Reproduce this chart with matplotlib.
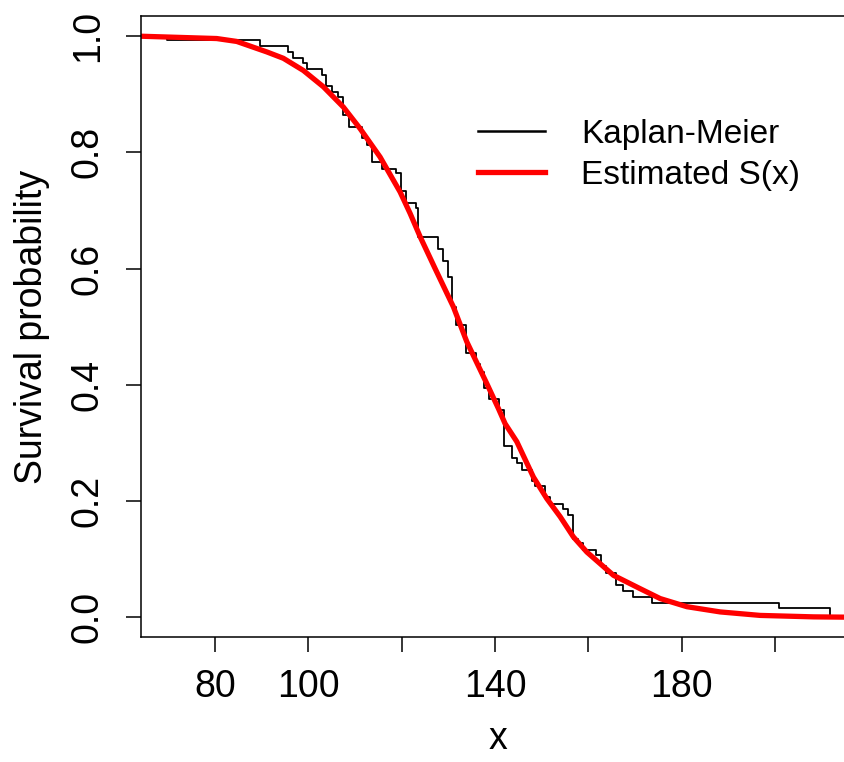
import matplotlib
matplotlib.use("Agg")
import matplotlib.pyplot as plt

plt.rcParams["font.family"] = ["Liberation Sans", "DejaVu Sans"]

# Kaplan-Meier step points (time of drop, survival after drop)
km_time = [69.64, 89.64, 95.71, 96.78, 98.80, 99.66, 102.87, 103.73, 105.01, 106.43,
           107.50, 108.68, 111.57, 112.65, 113.72, 115.86, 118.73, 119.81, 120.88, 122.98,
           123.58, 127.87, 128.94, 130.01, 130.74, 131.66, 133.80, 135.95, 136.80, 137.66,
           138.69, 140.88, 141.95, 143.73, 144.67, 145.74, 147.89, 148.59, 150.74, 151.81,
           154.60, 155.63, 156.74, 157.77, 158.88, 161.67, 162.68, 163.75, 165.89, 167.52,
           169.67, 173.61, 200.90, 211.68]
km_surv = [0.993, 0.983, 0.973, 0.963, 0.954, 0.943, 0.933, 0.914, 0.904, 0.896,
           0.864, 0.844, 0.824, 0.812, 0.784, 0.772, 0.765, 0.733, 0.713, 0.704,
           0.654, 0.633, 0.613, 0.585, 0.534, 0.503, 0.455, 0.435, 0.422, 0.395,
           0.376, 0.356, 0.294, 0.274, 0.266, 0.254, 0.235, 0.225, 0.206, 0.194,
           0.187, 0.176, 0.135, 0.127, 0.115, 0.107, 0.088, 0.076, 0.055, 0.045,
           0.035, 0.025, 0.016, 0.0]

# estimated survival curve
fit_x = [64.05, 80.36, 84.65, 91.08, 94.64, 98.93, 103.21, 107.50, 111.08, 115.37,
         118.22, 119.65, 121.80, 123.94, 127.16, 131.08, 133.95, 138.24, 140.73, 142.16,
         144.67, 148.23, 151.10, 153.95, 156.80, 159.68, 165.38, 171.10, 175.39, 181.11,
         188.25, 196.82, 208.25, 215.05, 217.4]
fit_surv = [1.0, 0.996, 0.991, 0.973, 0.962, 0.941, 0.913, 0.878, 0.841, 0.792,
            0.752, 0.732, 0.695, 0.655, 0.600, 0.534, 0.474, 0.402, 0.359, 0.333,
            0.302, 0.241, 0.204, 0.173, 0.138, 0.112, 0.072, 0.049, 0.032, 0.018,
            0.009, 0.003, 0.0005, 0.0, 0.0]

legend_labels = ["Kaplan-Meier", "Estimated S(x)"]
x_ticks = [80, 100, 120, 140, 160, 180, 200]
x_tick_labels = ["80", "100", "", "140", "", "180", ""]
y_ticks = [0.0, 0.2, 0.4, 0.6, 0.8, 1.0]
y_tick_labels = ["0.0", "0.2", "0.4", "0.6", "0.8", "1.0"]

fig = plt.figure(figsize=(8.45, 7.62), dpi=100)
ax = fig.add_axes([0.1664, 0.1634, 0.8469, 0.8150])

ax.step([0.0] + km_time, [1.0] + km_surv, where="post", color="black", lw=1.3,
        label=legend_labels[0])
ax.plot(fit_x, fit_surv, color="red", lw=3.8, label=legend_labels[1])

ax.set_xlim(64.05, 217.4)
ax.set_ylim(-0.035, 1.034)

ax.set_xticks(x_ticks)
ax.set_xticklabels(x_tick_labels)
ax.set_yticks(y_ticks)
ax.set_yticklabels(y_tick_labels, rotation=90, va="center")
ax.tick_params(axis="both", length=11, width=1.1, labelsize=27)
ax.tick_params(axis="x", pad=12)
ax.tick_params(axis="y", pad=14)
for sp in ax.spines.values():
    sp.set_linewidth(1.1)

ax.set_xlabel("x", fontsize=27, labelpad=11)
ax.set_ylabel("Survival probability", fontsize=27, labelpad=14)

leg = ax.legend(loc="center left", bbox_to_anchor=(478 / 845, 1 - 155 / 762),
                bbox_transform=fig.transFigure, frameon=False, fontsize=24,
                handlelength=2.0, handletextpad=1.1, labelspacing=0.3, borderpad=0,
                borderaxespad=0)
leg.get_lines()[0].set_linewidth(1.8)

fig.savefig("out.png", dpi=100)
